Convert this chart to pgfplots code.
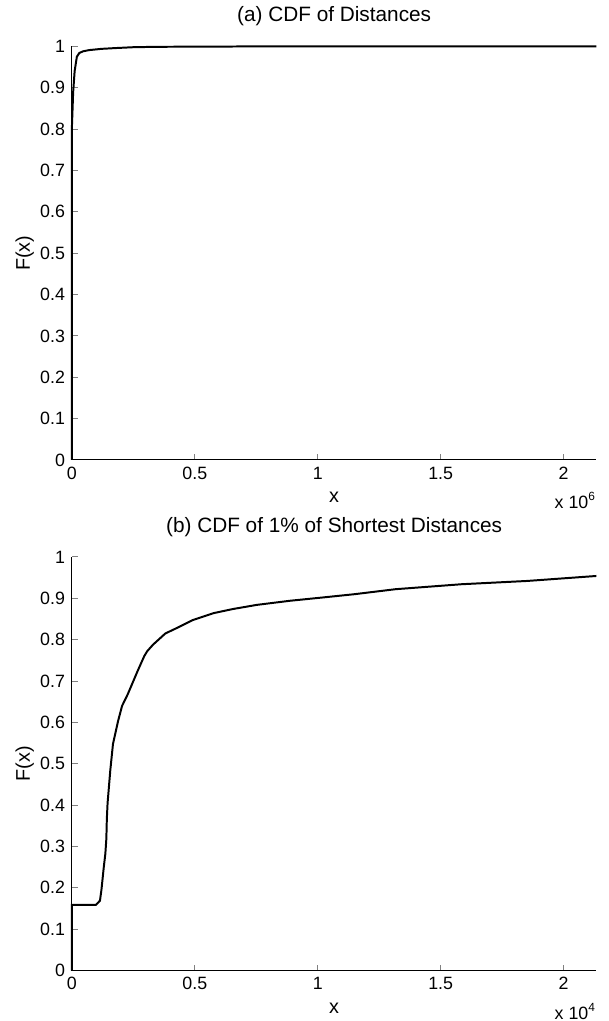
\documentclass[border=0pt]{standalone}
\usepackage{fontspec}
\setmainfont{Liberation Sans}
\usepackage{pgfplots}
\pgfplotsset{compat=1.18}

% both panels share the MATLAB-like look: box off, ticks inside
\pgfplotsset{cdfax/.style={
  scale only axis, width=265pt, height=209pt,
  xmin=0, xmax=2.133, ymin=0, ymax=1,
  axis x line*=bottom, axis y line*=left,
  axis line style={-, line width=0.5pt},
  tick align=inside, major tick length=3pt,
  tick style={line width=0.5pt},
  xtick={0,0.5,1,1.5,2},
  ytick={0,0.1,0.2,0.3,0.4,0.5,0.6,0.7,0.8,0.9,1},
  yticklabels={0,0.1,0.2,0.3,0.4,0.5,0.6,0.7,0.8,0.9,1},
  xticklabels={0,0.5,1,1.5,2},
  scaled x ticks=false,
  /pgf/number format/assume math mode=true,
  tick label style={font=\fontsize{9}{10}\selectfont},
  label style={font=\fontsize{10}{12}\selectfont},
  title style={font=\fontsize{10.5}{12}\selectfont, at={(0.5,1)}, anchor=base, yshift=6.5pt},
  xlabel style={at={(axis description cs:0.5,0)}, anchor=base, yshift=-21.5pt},
  ylabel style={at={(axis description cs:-0.09,0.5)}, anchor=center},
  xlabel={x}, ylabel={F(x)},
  clip=false,
}}

\begin{document}
\begin{tikzpicture}

\begin{axis}[cdfax, at={(0pt,0pt)}, anchor=origin,
  title={(a) CDF of Distances}]
\addplot[black, line width=1pt] coordinates {
  (0,0) (0,0.806) (0.005,0.89) (0.011,0.94) (0.02,0.975) (0.03,0.984)
  (0.045,0.988) (0.07,0.991) (0.12,0.994) (0.18,0.996) (0.25,0.998)
  (0.35,0.999) (0.6,0.9995) (0.75,1) (2.133,1)};
\node[anchor=base east, font=\fontsize{9}{10}\selectfont, inner sep=0pt]
  at (rel axis cs:1,0) [yshift=-24.5pt] {x 10\textsuperscript{6}};
\end{axis}

\begin{axis}[cdfax, at={(0pt,-258pt)}, anchor=origin,
  title={(b) CDF of 1\% of Shortest Distances}]
\addplot[black, line width=1pt] coordinates {
  (0,0) (0,0.159) (0.098,0.159) (0.114,0.169) (0.12,0.195) (0.129,0.247)
  (0.136,0.283) (0.14,0.319) (0.142,0.367) (0.145,0.405) (0.156,0.484)
  (0.167,0.548) (0.188,0.604) (0.204,0.64) (0.227,0.668) (0.267,0.724)
  (0.294,0.76) (0.306,0.772) (0.33,0.788) (0.38,0.815) (0.433,0.83)
  (0.49,0.847) (0.575,0.864) (0.654,0.874) (0.751,0.884) (0.886,0.894)
  (1.02,0.902) (1.15,0.91) (1.316,0.922) (1.584,0.934) (1.853,0.942)
  (2.133,0.954)};
\node[anchor=base east, font=\fontsize{9}{10}\selectfont, inner sep=0pt]
  at (rel axis cs:1,0) [yshift=-24.5pt] {x 10\textsuperscript{4}};
\end{axis}

% page frame: same size and margins as the reference
\path (-36.35pt,-283.5pt) rectangle (271.15pt,227pt);
\end{tikzpicture}
\end{document}
